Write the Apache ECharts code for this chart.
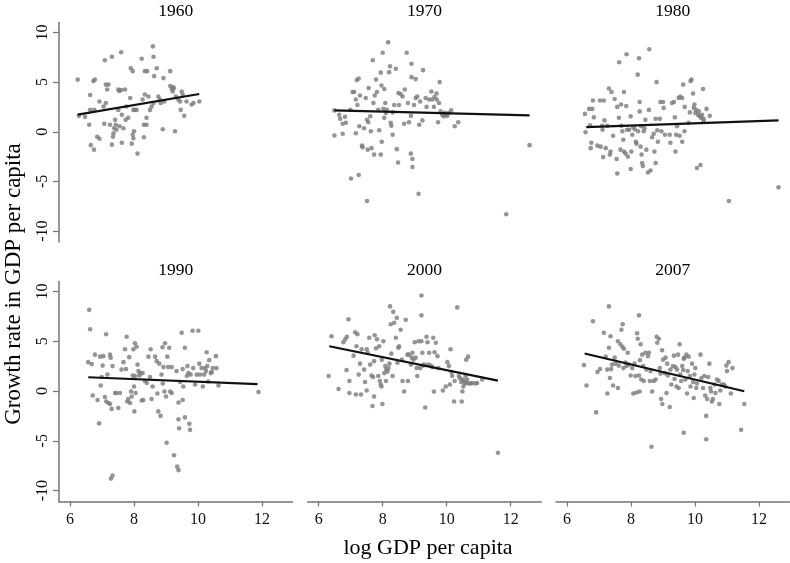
<!DOCTYPE html>
<html><head><meta charset="utf-8">
<script src="https://cdn.jsdelivr.net/npm/echarts@6/dist/echarts.min.js"></script>
<style>html,body{margin:0;padding:0;background:#fff}#c{width:790px;height:563px}</style>
</head><body><div id="c"></div>
<script>
const years = ['1960','1970','1980','1990','2000','2007'];
const xTicks = [6, 8, 10, 12];
const yTicks = [-10, -5, 0, 5, 10];
const xName = 'log GDP per capita';
const yName = 'Growth rate in GDP per capita';

const pts1960 = [[6.24,5.25],[6.28,1.6],[6.47,1.5],[6.63,2.2],[6.60,0.7],[6.63,3.7],[6.73,5.1],[6.78,5.25],[6.65,-1.35],[6.75,-1.8],[6.85,-0.5],[6.92,-0.7],[6.92,3.05],[6.76,2.2],[7.05,2.55],[7.09,7.2],[7.12,4.75],[7.20,4.75],[7.16,4.25],[7.07,0.8],[7.12,2.9],[7.31,7.55],[7.25,0.7],[7.31,-1.3],[7.36,-0.15],[7.34,-0.5],[7.41,1.2],[7.38,0.35],[7.43,0.7],[7.45,0.2],[7.51,4.25],[7.54,4.1],[7.51,2.2],[7.60,8.0],[7.60,4.2],[7.62,1.7],[7.62,-1.1],[7.55,0.55],[7.67,0.35],[7.72,4.25],[7.74,1.2],[7.76,2.55],[7.82,1.4],[7.88,3.4],[7.90,6.4],[7.96,6.1],[7.96,-0.3],[7.93,-1.2],[7.98,2.2],[7.98,-0.65],[8.00,0.05],[8.03,2.2],[8.08,2.2],[8.11,-2.2],[8.24,7.35],[8.27,3.25],[8.31,0.7],[8.31,-0.55],[8.34,3.75],[8.34,6.1],[8.41,6.1],[8.39,1.4],[8.39,0.7],[8.45,3.55],[8.50,2.2],[8.55,2.55],[8.59,8.6],[8.61,7.55],[8.61,2.9],[8.63,5.6],[8.71,6.4],[8.76,3.55],[8.81,3.25],[8.83,2.9],[8.90,0.25],[8.92,5.4],[8.94,3.05],[9.13,6.1],[9.13,4.6],[9.18,4.3],[9.21,4.05],[9.25,4.4],[9.28,0.05],[9.31,3.55],[9.38,3.25],[9.44,3.05],[9.49,4.05],[9.46,2.2],[9.52,3.75],[9.57,1.6],[9.64,3.05],[9.80,2.75],[9.86,2.9],[10.04,3.05],[9.21,4.5]];
const pts1970 = [[6.49,2.15],[6.49,-0.37],[6.64,1.7],[6.67,1.3],[6.75,0.8],[6.75,-0.2],[6.82,1.5],[6.85,0.9],[6.99,2.2],[7.01,-4.7],[7.06,4.0],[7.11,4.0],[7.16,3.25],[7.16,-0.15],[7.19,5.2],[7.25,5.35],[7.21,2.7],[7.25,-4.35],[7.27,0.55],[7.29,3.65],[7.35,-1.4],[7.37,-1.55],[7.42,0.35],[7.47,3.4],[7.51,-6.97],[7.51,1.2],[7.53,-1.8],[7.55,0.95],[7.56,4.4],[7.61,1.55],[7.63,0.05],[7.65,-1.65],[7.69,7.2],[7.71,2.9],[7.73,-2.3],[7.75,3.65],[7.79,5.25],[7.82,4.0],[7.86,2.2],[7.89,0.15],[7.94,5.95],[7.94,-2.3],[7.96,4.65],[7.97,-1.0],[8.00,7.95],[8.02,2.3],[8.05,4.3],[8.08,2.9],[8.05,1.4],[8.10,1.9],[8.13,2.2],[8.17,9.0],[8.20,6.0],[8.23,6.6],[8.25,0.9],[8.27,0.6],[8.31,-0.3],[8.31,1.95],[8.36,2.7],[8.41,6.35],[8.44,-1.75],[8.48,-3.1],[8.49,3.9],[8.51,2.7],[8.56,3.8],[8.62,3.55],[8.67,0.8],[8.69,4.25],[8.75,7.95],[8.79,2.9],[8.82,0.95],[8.88,-2.2],[8.88,1.6],[8.90,6.85],[8.90,5.5],[8.93,-2.75],[8.93,-3.55],[8.98,2.7],[9.03,5.3],[9.03,3.4],[9.08,3.55],[9.12,-6.25],[9.14,0.7],[9.17,3.05],[9.24,1.15],[9.26,6.2],[9.34,3.4],[9.37,2.5],[9.45,3.25],[9.52,4.05],[9.55,3.25],[9.60,2.5],[9.62,3.5],[9.68,3.85],[9.69,3.25],[9.73,0.95],[9.76,2.9],[9.78,5.0],[9.81,2.05],[9.86,1.7],[9.91,1.55],[9.94,1.9],[9.97,1.7],[10.02,1.6],[10.07,1.9],[10.14,2.15],[10.25,0.55],[10.36,0.95],[11.86,-8.3],[12.59,-1.35]];
const pts1980 = [[6.56,1.8],[6.58,-0.05],[6.69,2.3],[6.72,0.65],[6.74,-1.65],[6.76,-1.1],[6.79,2.3],[6.81,3.15],[6.84,1.45],[6.95,-1.4],[7.03,3.15],[7.05,-1.5],[7.10,0.6],[7.11,0.2],[7.13,-2.55],[7.15,3.15],[7.17,1.15],[7.21,-1.65],[7.26,0.6],[7.31,4.35],[7.34,-2.3],[7.36,-2.0],[7.39,4.0],[7.44,-0.4],[7.49,3.3],[7.55,-2.75],[7.57,2.5],[7.57,-4.2],[7.62,1.4],[7.63,7.0],[7.67,-1.8],[7.69,2.75],[7.70,0.6],[7.73,0.05],[7.76,-0.8],[7.78,4.0],[7.78,-2.0],[7.83,-2.2],[7.85,2.6],[7.86,7.8],[7.88,0.2],[7.90,-2.5],[7.94,0.2],[7.99,1.55],[7.99,-3.75],[8.01,-2.0],[8.04,-0.3],[8.07,0.45],[8.12,0.25],[8.15,-1.0],[8.17,-1.2],[8.21,5.75],[8.22,0.05],[8.25,7.4],[8.27,3.0],[8.27,2.05],[8.30,-1.5],[8.32,0.55],[8.33,-2.3],[8.35,-3.15],[8.37,-3.45],[8.40,0.05],[8.42,0.35],[8.45,1.2],[8.48,-1.8],[8.53,-4.1],[8.56,2.2],[8.57,8.3],[8.61,-3.9],[8.66,-0.55],[8.71,-0.2],[8.73,-2.0],[8.77,-3.15],[8.77,1.3],[8.80,5.0],[8.82,0.15],[8.84,-1.0],[8.90,1.3],[8.92,3.0],[8.95,0.05],[9.00,3.0],[9.02,2.4],[9.06,-0.3],[9.21,-0.3],[9.23,-1.1],[9.28,2.9],[9.34,3.0],[9.37,1.45],[9.39,-2.0],[9.41,-0.3],[9.44,0.55],[9.49,3.4],[9.52,-0.4],[9.54,3.55],[9.60,3.4],[9.60,-1.0],[9.63,4.75],[9.67,0.05],[9.68,2.5],[9.80,0.9],[9.84,1.95],[9.86,5.1],[9.89,5.25],[9.94,3.85],[9.96,2.4],[9.98,2.75],[10.01,1.9],[10.04,2.2],[10.06,-3.65],[10.09,1.7],[10.12,2.05],[10.15,1.55],[10.17,-3.35],[10.19,1.4],[10.22,1.7],[10.25,4.3],[10.27,1.3],[10.27,1.05],[10.36,2.3],[10.46,1.6],[11.06,-6.97],[12.61,-5.6]];
const pts1990 = [[6.60,8.15],[6.63,6.2],[6.57,2.9],[6.68,2.7],[6.71,-0.45],[6.78,3.65],[6.86,-0.9],[6.91,-3.25],[6.94,3.45],[6.96,0.55],[6.99,1.4],[7.02,2.55],[7.04,3.5],[7.09,-0.6],[7.13,5.7],[7.13,-1.05],[7.17,1.65],[7.20,-1.2],[7.25,3.65],[7.27,3.35],[7.25,-1.3],[7.30,-1.8],[7.33,2.5],[7.41,-0.2],[7.44,-0.2],[7.51,-1.7],[7.56,-0.2],[7.61,2.15],[7.67,2.9],[7.72,4.2],[7.75,2.2],[7.77,5.45],[7.79,-1.05],[7.82,-0.8],[7.85,3.4],[7.88,-1.2],[7.91,-0.05],[7.93,-0.55],[7.96,1.55],[7.98,4.2],[8.00,0.45],[8.01,-2.05],[8.03,1.5],[8.03,4.8],[8.05,-0.2],[8.08,4.45],[8.11,2.65],[8.14,2.0],[8.17,1.55],[8.19,1.8],[8.24,-0.95],[8.27,1.8],[8.29,-0.9],[8.34,1.0],[8.40,0.8],[8.45,3.45],[8.50,1.4],[8.52,4.2],[8.55,-0.8],[8.58,0.45],[8.66,3.45],[8.71,3.0],[8.73,-0.25],[8.76,-2.05],[8.79,2.75],[8.83,-2.5],[8.86,1.65],[8.89,4.4],[8.90,0.75],[8.92,2.4],[8.95,-0.05],[8.97,4.8],[9.00,-0.55],[9.02,-5.2],[9.04,3.45],[9.07,2.4],[9.10,4.35],[9.13,-0.05],[9.18,-0.2],[9.18,2.4],[9.25,-6.45],[9.33,2.0],[9.35,-7.6],[9.39,-7.95],[9.39,-1.15],[9.39,-2.85],[9.41,-3.75],[9.44,0.9],[9.49,5.85],[9.52,2.2],[9.52,-0.9],[9.54,0.45],[9.59,4.35],[9.59,-2.65],[9.65,1.5],[9.67,2.5],[9.70,1.8],[9.73,-3.3],[9.75,-3.9],[9.77,1.65],[9.83,6.05],[9.85,2.3],[9.91,0.65],[9.96,1.65],[10.01,6.05],[10.04,2.75],[10.06,1.65],[10.11,2.3],[10.15,0.45],[10.19,1.65],[10.22,2.3],[10.25,2.0],[10.27,3.9],[10.29,2.5],[10.32,0.95],[10.35,3.1],[10.40,1.8],[10.43,1.9],[10.46,2.3],[10.56,3.5],[10.58,2.3],[10.64,0.55],[11.89,-0.1],[7.28,-8.8],[7.33,-8.5]];
const pts2000 = [[6.31,1.5],[6.40,5.5],[6.62,0.2],[6.77,4.9],[6.83,5.2],[6.87,2.1],[6.88,5.45],[6.93,7.2],[6.96,-0.2],[6.96,1.0],[7.09,3.55],[7.14,5.9],[7.16,-0.35],[7.18,4.5],[7.21,5.7],[7.25,1.65],[7.29,2.75],[7.32,-0.35],[7.34,4.2],[7.42,2.15],[7.45,0.9],[7.50,0.05],[7.50,4.2],[7.53,3.85],[7.58,5.35],[7.61,2.65],[7.65,1.55],[7.68,-1.5],[7.70,1.4],[7.73,-0.55],[7.73,3.0],[7.75,5.6],[7.79,4.3],[7.82,5.2],[7.86,1.5],[7.89,4.5],[7.91,1.0],[7.94,0.65],[7.96,0.45],[7.97,3.15],[7.99,-1.3],[8.02,5.0],[8.05,1.8],[8.08,2.5],[8.10,1.0],[8.11,2.15],[8.15,1.95],[8.18,2.3],[8.21,2.75],[8.23,8.5],[8.25,6.7],[8.27,3.75],[8.31,1.5],[8.33,7.95],[8.36,6.85],[8.41,5.35],[8.44,7.35],[8.46,2.85],[8.49,4.35],[8.51,4.5],[8.56,6.15],[8.60,3.15],[8.62,1.0],[8.67,-0.05],[8.72,7.15],[8.77,3.65],[8.79,1.0],[8.82,3.65],[8.88,2.65],[8.91,3.35],[8.93,3.85],[8.96,3.15],[9.00,4.9],[9.03,3.35],[9.06,2.3],[9.08,1.5],[9.12,5.0],[9.17,2.3],[9.21,9.6],[9.21,7.6],[9.21,5.0],[9.24,3.85],[9.27,2.55],[9.29,2.65],[9.33,-1.65],[9.37,5.45],[9.40,4.9],[9.42,2.65],[9.45,3.85],[9.50,2.55],[9.55,2.4],[9.58,5.35],[9.60,-0.05],[9.62,3.9],[9.66,4.85],[9.71,3.5],[9.74,2.3],[9.88,0.05],[9.97,0.45],[10.02,2.9],[10.07,2.5],[10.10,0.65],[10.12,4.2],[10.15,1.9],[10.17,1.5],[10.23,-1.05],[10.25,1.0],[10.33,8.4],[10.38,1.5],[10.41,1.3],[10.45,0.9],[10.47,-1.05],[10.49,-0.05],[10.50,1.15],[10.52,0.45],[10.54,1.0],[10.56,0.75],[10.59,1.5],[10.61,3.15],[10.62,0.8],[10.64,1.15],[10.67,3.45],[10.69,0.75],[10.75,0.75],[10.80,0.8],[10.90,0.75],[10.95,0.8],[11.11,1.15],[11.60,-6.2]];
const pts2007 = [[6.53,2.6],[6.61,0.55],[6.81,7.0],[6.91,-2.15],[6.95,1.9],[7.03,2.2],[7.15,5.85],[7.21,3.45],[7.26,2.15],[7.26,-0.25],[7.31,8.5],[7.31,4.35],[7.34,1.3],[7.36,5.5],[7.38,2.2],[7.41,2.65],[7.44,0.55],[7.49,3.35],[7.52,2.75],[7.59,0.3],[7.59,5.0],[7.62,2.55],[7.67,4.7],[7.70,6.15],[7.74,6.7],[7.73,4.45],[7.76,2.3],[7.78,4.25],[7.83,2.85],[7.86,2.5],[7.90,3.85],[7.93,2.65],[7.99,1.55],[8.04,2.3],[8.07,-0.25],[8.11,2.75],[8.14,1.5],[8.17,-0.15],[8.19,5.8],[8.21,5.25],[8.25,7.6],[8.25,1.55],[8.27,-0.05],[8.28,3.1],[8.30,4.7],[8.32,1.15],[8.35,3.65],[8.38,2.5],[8.40,1.0],[8.45,3.85],[8.48,2.15],[8.53,3.5],[8.56,3.85],[8.59,1.0],[8.61,2.0],[8.64,-5.6],[8.66,-0.05],[8.71,1.0],[8.77,1.15],[8.80,5.45],[8.82,4.85],[8.87,5.25],[8.90,2.3],[8.92,1.75],[8.94,-0.8],[8.97,4.1],[8.98,-1.3],[9.00,3.15],[9.05,1.8],[9.08,3.35],[9.11,-0.2],[9.13,2.75],[9.15,1.55],[9.21,-1.6],[9.23,2.15],[9.26,0.65],[9.31,2.5],[9.34,3.55],[9.36,1.2],[9.39,2.4],[9.42,0.45],[9.44,2.15],[9.47,3.65],[9.49,0.3],[9.52,4.7],[9.54,1.65],[9.57,1.0],[9.60,2.5],[9.63,2.1],[9.65,-4.2],[9.65,3.25],[9.67,3.35],[9.70,1.15],[9.73,3.65],[9.75,-0.25],[9.77,2.0],[9.80,3.45],[9.84,1.5],[9.86,0.45],[9.91,2.75],[9.94,0.9],[9.96,-0.7],[9.98,1.65],[10.01,2.3],[10.04,0.3],[10.06,0.75],[10.17,3.65],[10.20,1.3],[10.25,0.3],[10.29,1.5],[10.32,-0.45],[10.35,-2.5],[10.35,-4.85],[10.38,-0.8],[10.41,1.4],[10.45,2.75],[10.48,0.3],[10.50,-0.05],[10.53,-1.05],[10.56,-0.8],[10.61,0.65],[10.64,-0.2],[10.69,1.15],[10.74,1.0],[10.76,-1.3],[10.79,0.05],[10.84,0.65],[10.90,0.65],[10.95,0.45],[10.98,2.55],[11.00,2.0],[11.05,2.9],[11.12,-0.25],[11.17,2.3],[11.44,-3.9],[11.54,-1.3]];

const fit1960 = [[6.24,1.72],[10.04,3.8]];
const fit1970 = [[6.49,2.15],[12.59,1.65]];
const fit1980 = [[6.60,0.47],[12.61,1.14]];
const fit1990 = [[6.57,1.38],[11.86,0.7]];
const fit2000 = [[6.33,4.5],[11.60,1.05]];
const fit2007 = [[6.55,3.77],[11.54,-0.03]];

const points = [pts1960, pts1970, pts1980, pts1990, pts2000, pts2007];
const fits = [fit1960, fit1970, fit1980, fit1990, fit2000, fit2007];

const FONT = '"Liberation Serif", "DejaVu Serif", serif';
const AXIS_COLOR = '#747474';
const lefts = [59, 307.7, 556];
const tops = [22.5, 281.5];
const W = 233.5;
const H = [219.5, 220];

const grid = [], xAxis = [], yAxis = [], series = [], graphic = [];
years.forEach((yr, i) => {
  const row = Math.floor(i / 3), col = i % 3;
  grid.push({left: lefts[col], top: tops[row], width: W, height: H[row], containLabel: false});
  xAxis.push({
    gridIndex: i, type: 'value', min: 5.656, max: 12.953, show: row === 1,
    axisLine: {show: true, onZero: false, lineStyle: {color: AXIS_COLOR, width: 1.5}},
    axisTick: {show: true, length: 5, customValues: xTicks, lineStyle: {color: AXIS_COLOR, width: 1.2}},
    axisLabel: {show: true, customValues: xTicks, fontFamily: FONT, fontSize: 16, color: '#111', margin: 10},
    splitLine: {show: false}
  });
  yAxis.push({
    gridIndex: i, type: 'value', min: -11.1, max: 11.0, show: col === 0,
    axisLine: {show: true, onZero: false, lineStyle: {color: AXIS_COLOR, width: 1.5}},
    axisTick: {show: true, length: 6, customValues: yTicks, lineStyle: {color: AXIS_COLOR, width: 1.2}},
    axisLabel: {show: true, customValues: yTicks, rotate: 90, fontFamily: FONT, fontSize: 16, color: '#111', margin: 8},
    splitLine: {show: false}
  });
  series.push({
    type: 'scatter', xAxisIndex: i, yAxisIndex: i, data: points[i],
    symbolSize: 4.6, itemStyle: {color: '#7a7a7a'}, silent: true, z: 2
  });
  series.push({
    type: 'line', xAxisIndex: i, yAxisIndex: i, data: fits[i],
    symbol: 'none', lineStyle: {color: '#111', width: 2.2}, silent: true, z: 3
  });
  graphic.push({
    type: 'text', x: lefts[col] + W / 2, y: row === 0 ? 11.5 : 270.5,
    style: {text: yr, fontFamily: FONT, fontSize: 17.5, fill: '#000',
            textAlign: 'center', textVerticalAlign: 'middle', align: 'center', verticalAlign: 'middle'}
  });
});
graphic.push({
  type: 'text', x: 14, y: 284, rotation: Math.PI / 2,
  style: {text: yName, fontFamily: FONT, fontSize: 23, fill: '#000',
          textAlign: 'center', textVerticalAlign: 'middle', align: 'center', verticalAlign: 'middle'}
});
graphic.push({
  type: 'text', x: 428, y: 548,
  style: {text: xName, fontFamily: FONT, fontSize: 22, fill: '#000',
          textAlign: 'center', textVerticalAlign: 'middle', align: 'center', verticalAlign: 'middle'}
});

const chart = echarts.init(document.getElementById('c'), null, {renderer: 'canvas'});
chart.setOption({
  animation: false,
  backgroundColor: '#fff',
  grid, xAxis, yAxis, series, graphic
});
</script>
</body></html>
